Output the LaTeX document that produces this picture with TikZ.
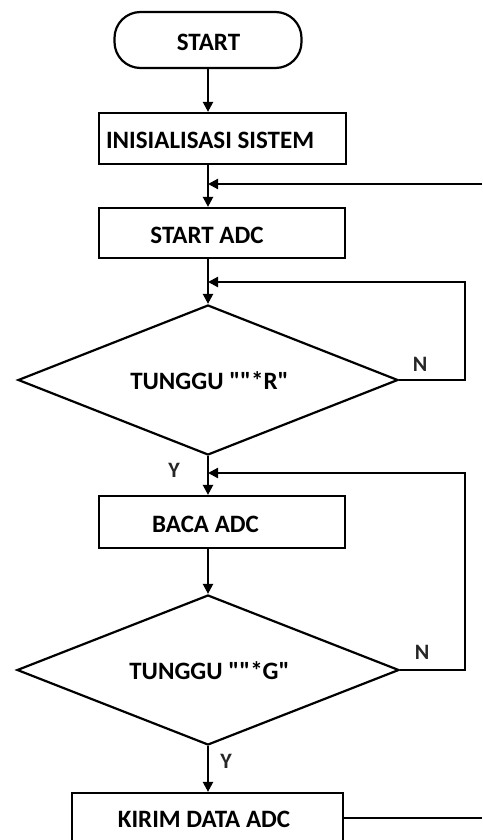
\documentclass[tikz,border=0pt]{standalone}
\usepackage{fontspec}
\setmainfont{Carlito}
\usetikzlibrary{shapes.geometric,arrows.meta}
\tikzset{
  box/.style={draw=black, line width=2.2pt, fill=white, rectangle, inner sep=0pt},
  term/.style={draw=black, line width=2.2pt, fill=white, rectangle, rounded corners=26pt, inner sep=0pt},
  dec/.style={draw=black, line width=2.2pt, fill=white, diamond, inner sep=0pt},
  txt/.style={font=\fontsize{25}{29}\selectfont\bfseries, inner sep=0pt},
  lbl/.style={font=\fontsize{22}{25}\selectfont\bfseries, inner sep=0pt, text=black!85},
  arr/.style={draw=black, line width=2.2pt, -{Triangle[length=10pt,width=10pt]}},
  ln/.style={draw=black, line width=2.2pt},
}
\newcommand{\qd}{\textquotedbl}
\begin{document}
\begin{tikzpicture}[x=1pt,y=-1pt]
\useasboundingbox (0,0) rectangle (482,840);
\clip (0,0) rectangle (482,840);
\fill[white] (0,0) rectangle (482,840);
% shapes
\node[term, minimum width=187pt, minimum height=56pt] (start) at (208,40) {};
\node[box, minimum width=247pt, minimum height=51pt] (init) at (222.5,138.5) {};
\node[box, minimum width=246pt, minimum height=50pt] (adc) at (222,233) {};
\node[dec, minimum width=380pt, minimum height=150pt] (d1) at (208,380) {};
\node[box, minimum width=246pt, minimum height=52pt] (baca) at (222,522) {};
\node[dec, minimum width=382pt, minimum height=150pt] (d2) at (208,670) {};
\node[box, minimum width=271pt, minimum height=76pt] (kirim) at (207.5,831) {};
% texts
\node[txt] (tstart) at (208.5,42) {START};
\node[txt] (tinit) at (210,140) {INISIALISASI SISTEM};
\node[txt] (tadc) at (207,235) {START ADC};
\node[txt] (td1) at (209.5,381) {TUNGGU \qd\qd*R\qd};
\node[txt] (tbaca) at (205.5,524) {BACA ADC};
\node[txt] (td2) at (209.5,671) {TUNGGU \qd\qd*G\qd};
\node[txt] (tkirim) at (204,819) {KIRIM DATA ADC};
% labels
\node[lbl] (n1) at (420,364) {N};
\node[lbl] (n2) at (422,652) {N};
\node[lbl] (y1) at (174,470) {Y};
\node[lbl] (y2) at (226,761) {Y};
% junctions
\coordinate (e1) at (482,184);
\coordinate (j1) at (208,184);
\coordinate (r1) at (465,282);
\coordinate (j2) at (208,282);
\coordinate (r2) at (465,473);
\coordinate (j3) at (208,473);
\coordinate (e2) at (482,818);
% connectors
\draw[arr] (start) -- (start |- init.north);
\draw[arr] (init.south -| start) -- (adc.north -| start);
\draw[arr] (e1) -- (j1);
\draw[arr] (adc.south -| start) -- (d1.north);
\draw[arr] (d1.east) -| (r1) -- (j2);
\draw[arr] (d1.south) -- (baca.north -| d1);
\draw[arr] (d2.east) -| (r2) -- (j3);
\draw[arr] (baca.south -| d1) -- (d2.north);
\draw[arr] (d2.south) -- (kirim.north -| d2);
\draw[ln] (e2 -| kirim.east) -- (e2);
\end{tikzpicture}
\end{document}
